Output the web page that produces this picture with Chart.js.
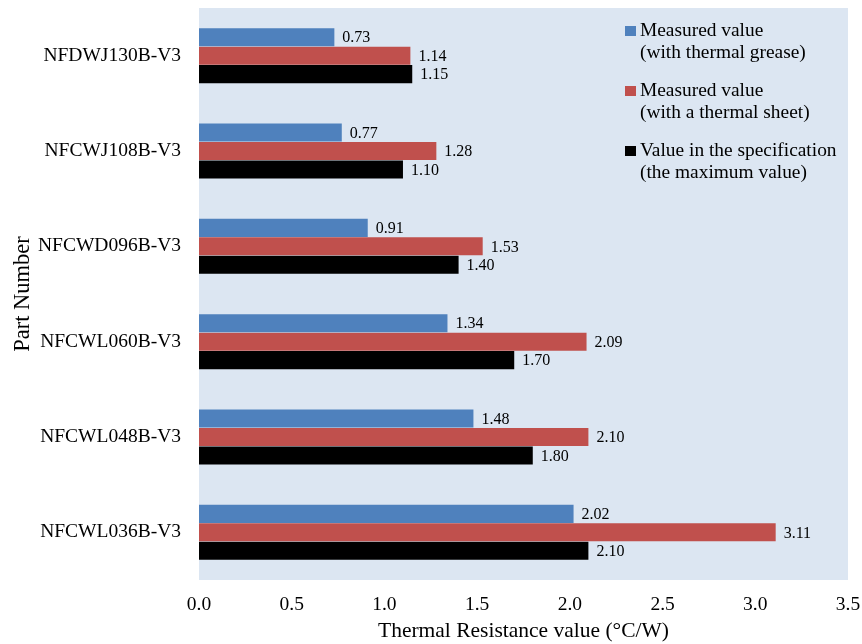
<!DOCTYPE html>
<html lang="en">
<head>
  <meta charset="UTF-8" />
  <title>Thermal Resistance by Part Number</title>
  <script src="https://cdn.jsdelivr.net/npm/chart.js"></script>
  <style>
    html, body { margin: 0; padding: 0; background: #fff; }
    #wrap { width: 862px; height: 644px; }
  </style>
</head>
<body>
  <div id="wrap"><canvas id="chart"></canvas></div>

  <script>
    const partNumbers = ['NFDWJ130B-V3', 'NFCWJ108B-V3', 'NFCWD096B-V3', 'NFCWL060B-V3', 'NFCWL048B-V3', 'NFCWL036B-V3'];
    const greaseValues = [0.73, 0.77, 0.91, 1.34, 1.48, 2.02];
    const sheetValues = [1.14, 1.28, 1.53, 2.09, 2.10, 3.11];
    const specValues = [1.15, 1.10, 1.40, 1.70, 1.80, 2.10];
    const xTicks = [0, 0.5, 1.0, 1.5, 2.0, 2.5, 3.0, 3.5];

    const legendLines = [
      ['Measured value', '(with thermal grease)'],
      ['Measured value', '(with a thermal sheet)'],
      ['Value in the specification', '(the maximum value)']
    ];

    const serif = "'Liberation Serif', 'Times New Roman', serif";

    // light blue plot background
    const plotBg = {
      id: 'plotBg',
      beforeDraw(chart) {
        const { ctx, chartArea: a } = chart;
        ctx.save();
        ctx.fillStyle = '#dce6f2';
        ctx.fillRect(a.left, a.top, a.right - a.left, a.bottom - a.top);
        ctx.restore();
      }
    };

    // value labels at bar ends
    const barLabels = {
      id: 'barLabels',
      afterDatasetsDraw(chart) {
        const ctx = chart.ctx;
        ctx.save();
        ctx.font = '16px ' + serif;
        ctx.fillStyle = '#000';
        ctx.textBaseline = 'middle';
        chart.data.datasets.forEach((ds, i) => {
          chart.getDatasetMeta(i).data.forEach((bar, j) => {
            ctx.fillText(ds.data[j].toFixed(2), bar.x + 8, bar.y + 1);
          });
        });
        ctx.restore();
      }
    };

    // two-line legend inside the plot, top right
    const boxLegend = {
      id: 'boxLegend',
      afterDraw(chart) {
        const ctx = chart.ctx;
        const x = 625, y0 = 31;
        ctx.save();
        ctx.font = '19.4px ' + serif;
        ctx.textBaseline = 'middle';
        chart.data.datasets.forEach((ds, i) => {
          const y = y0 + i * 60;
          ctx.fillStyle = ds.backgroundColor;
          ctx.fillRect(x, y - 5, 11, 10);
          ctx.fillStyle = '#000';
          legendLines[i].forEach((t, k) => ctx.fillText(t, x + 15, y + k * 22));
        });
        ctx.restore();
      }
    };

    new Chart(document.getElementById('chart'), {
      type: 'bar',
      data: {
        labels: partNumbers,
        datasets: [
          { label: legendLines[0].join(' '), data: greaseValues, backgroundColor: '#4f81bd' },
          { label: legendLines[1].join(' '), data: sheetValues, backgroundColor: '#c0504d' },
          { label: legendLines[2].join(' '), data: specValues, backgroundColor: '#000000' }
        ]
      },
      options: {
        indexAxis: 'y',
        responsive: true,
        maintainAspectRatio: false,
        animation: false,
        categoryPercentage: 0.58,
        barPercentage: 0.98,
        layout: { padding: { top: 8, right: 14, left: 0, bottom: 0 } },
        plugins: {
          legend: { display: false },
          tooltip: { enabled: false }
        },
        scales: {
          x: {
            min: 0,
            max: 3.5,
            afterBuildTicks: scale => { scale.ticks = xTicks.map(v => ({ value: v })); },
            grid: { display: false },
            border: { display: false },
            ticks: {
              color: '#000',
              padding: 5,
              font: { family: serif, size: 19.5 },
              callback: v => Number(v).toFixed(1)
            },
            title: {
              display: true,
              text: 'Thermal Resistance value (°C/W)',
              color: '#000',
              font: { family: serif, size: 21.5 },
              padding: { top: 2, bottom: 0 }
            },
            afterFit: scale => {
              scale.height = 64;
              scale.paddingLeft = 0;
              scale.paddingRight = 0;
            }
          },
          y: {
            grid: { display: false },
            border: { display: false },
            ticks: {
              color: '#000',
              padding: 10,
              font: { family: serif, size: 19.5 }
            },
            title: {
              display: true,
              text: 'Part Number',
              color: '#000',
              font: { family: serif, size: 22.5 },
              padding: { top: 10, bottom: 2 }
            },
            afterFit: scale => {
              scale.width = 199;
              scale.paddingTop = 0;
              scale.paddingBottom = 0;
            }
          }
        }
      },
      plugins: [plotBg, barLabels, boxLegend]
    });
  </script>
</body>
</html>
